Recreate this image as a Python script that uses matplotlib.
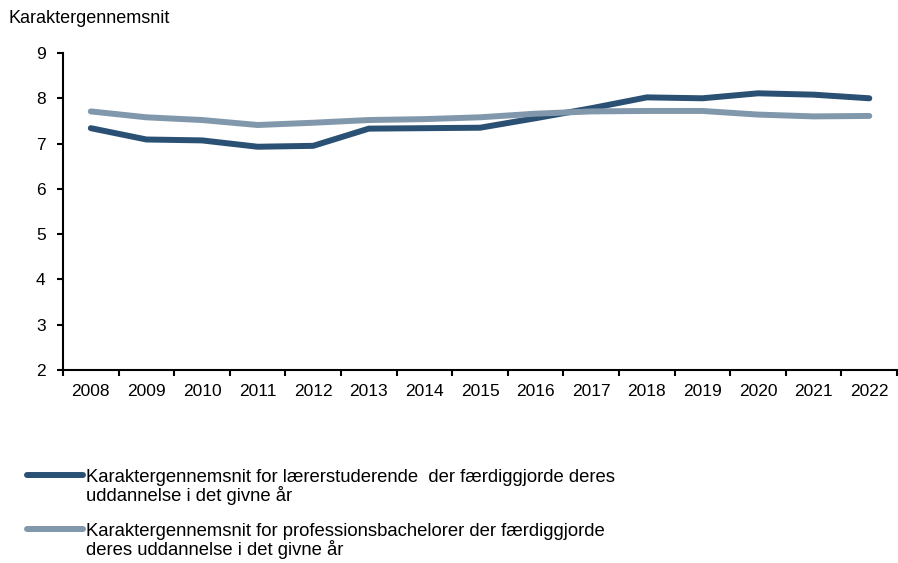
import matplotlib
matplotlib.use("Agg")
import matplotlib.pyplot as plt
from matplotlib.lines import Line2D
import numpy as np

plt.rcParams['font.family'] = ['Liberation Sans', 'DejaVu Sans']

years = [str(y) for y in range(2008, 2023)]
laerer = [7.34, 7.09, 7.07, 6.93, 6.95, 7.33, 7.34, 7.35, 7.56, 7.78, 8.02, 8.00, 8.11, 8.08, 8.00]
prof = [7.71, 7.58, 7.52, 7.41, 7.46, 7.52, 7.54, 7.58, 7.66, 7.71, 7.72, 7.72, 7.64, 7.60, 7.61]
label_laerer = ["Karaktergennemsnit for lærerstuderende  der færdiggjorde deres",
                "uddannelse i det givne år"]
label_prof = ["Karaktergennemsnit for professionsbachelorer der færdiggjorde",
              "deres uddannelse i det givne år"]
y_title = "Karaktergennemsnit"

c_dark = "#2a5173"
c_light = "#8198ac"

W, H = 898, 563
fig = plt.figure(figsize=(W/100, H/100), dpi=100)
ax = fig.add_axes([63/W, 1-370/H, 1-63/W-0.001, (370-53)/H])

x = np.arange(len(years))
ax.plot(x, laerer, color=c_dark, lw=4.3, solid_capstyle='round', solid_joinstyle='round')
ax.plot(x, prof, color=c_light, lw=4.3, solid_capstyle='round', solid_joinstyle='round')

ax.set_xlim(-0.5, len(years)-0.5)
ax.set_ylim(2, 9)
ax.set_yticks(range(2, 10))
ax.set_xticks(np.arange(-0.5, len(years), 1.0))
ax.set_xticklabels([])
ax.set_xticks(x, minor=True)
ax.set_xticklabels(years, minor=True)
ax.tick_params(axis='x', which='major', direction='out', length=4.5, width=1.5, color='black')
ax.tick_params(axis='x', which='minor', length=0, pad=10, labelsize=12.5)
ax.tick_params(axis='y', direction='out', length=4.5, width=1.5, labelsize=12.5, pad=8)
for s in ['top', 'right']:
    ax.spines[s].set_visible(False)
for s in ['left', 'bottom']:
    ax.spines[s].set_linewidth(1.5)
    ax.spines[s].set_color('black')

fig.text(9/W, 1-23/H, y_title, fontsize=13, va='baseline', ha='left')

# legend
for yy, col, lines in [(475, c_dark, label_laerer), (529, c_light, label_prof)]:
    fy = 1 - yy/H
    fig.add_artist(Line2D([27/W, 83/W], [fy, fy], color=col, lw=4.3, solid_capstyle='round'))
    for i, ln in enumerate(lines):
        fig.text(86/W, 1 - (yy + 7.5 + 18.5*i)/H, ln, fontsize=13.3, va='baseline', ha='left')

fig.savefig("out.png", dpi=100)
